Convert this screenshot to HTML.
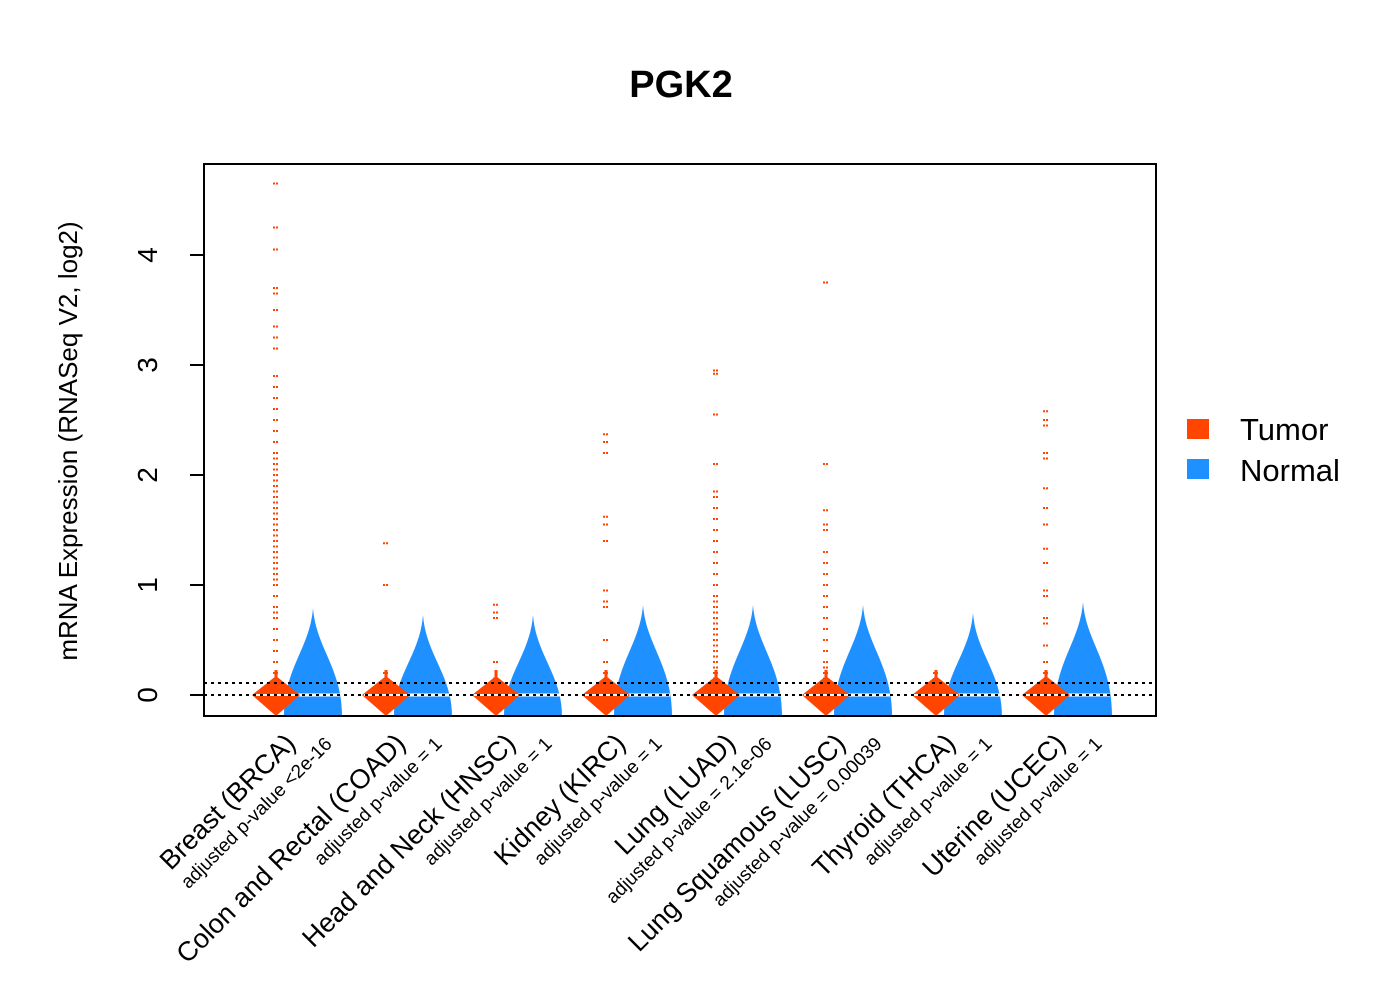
<!DOCTYPE html>
<html><head><meta charset="utf-8"><style>body{margin:0;background:#fff}svg{display:block}text{font-family:"Liberation Sans",Arial,sans-serif}</style></head>
<body>
<svg id="s" width="1400" height="1000" xmlns="http://www.w3.org/2000/svg">
<rect width="1400" height="1000" fill="#fff"/>
<text x="681" y="97" font-size="38" font-weight="bold" text-anchor="middle">PGK2</text>
<g id="plot"></g>
<line x1="204" y1="683" x2="1156" y2="683" stroke="#000" stroke-width="2" stroke-dasharray="3,4"/>
<line x1="204" y1="695" x2="1156" y2="695" stroke="#000" stroke-width="2" stroke-dasharray="3,4"/>
<rect x="204" y="164" width="952" height="552" fill="none" stroke="#000" stroke-width="2"/>
<g stroke="#000" stroke-width="2">
<line x1="204" y1="695" x2="190" y2="695"/><line x1="204" y1="585" x2="190" y2="585"/><line x1="204" y1="475" x2="190" y2="475"/><line x1="204" y1="365" x2="190" y2="365"/><line x1="204" y1="255" x2="190" y2="255"/>
</g>
<g font-size="28" text-anchor="middle">
<text transform="translate(157,695) rotate(-90)">0</text>
<text transform="translate(157,585) rotate(-90)">1</text>
<text transform="translate(157,475) rotate(-90)">2</text>
<text transform="translate(157,365) rotate(-90)">3</text>
<text transform="translate(157,255) rotate(-90)">4</text>
</g>
<text transform="translate(77,441) rotate(-90)" font-size="26" text-anchor="middle">mRNA Expression (RNASeq V2, log2)</text>
<rect x="1187" y="419" width="22" height="20" fill="#FF4500"/>
<rect x="1187" y="459" width="22" height="20" fill="#1E90FF"/>
<text x="1240" y="440" font-size="31">Tumor</text>
<text x="1240" y="481" font-size="31">Normal</text>
<g id="labels"></g>
</svg>
<script>
var NS="http://www.w3.org/2000/svg",plot=document.getElementById('plot'),lab=document.getElementById('labels');
function el(t,a,p,txt){var e=document.createElementNS(NS,t);for(var k in a)e.setAttribute(k,a[k]);if(txt)e.textContent=txt;(p||plot).appendChild(e);return e;}
var names=["Breast (BRCA)","Colon and Rectal (COAD)","Head and Neck (HNSC)","Kidney (KIRC)","Lung (LUAD)","Lung Squamous (LUSC)","Thyroid (THCA)","Uterine (UCEC)"];
var pv=["adjusted p-value <2e-16","adjusted p-value = 1","adjusted p-value = 1","adjusted p-value = 1","adjusted p-value = 2.1e-06","adjusted p-value = 0.00039","adjusted p-value = 1","adjusted p-value = 1"];
var tips=[608,615,615,605,605,605,613,602];
var outl=[
[0.2,0.3,0.4,0.5,0.6,0.7,0.75,0.8,0.9,1.0,1.05,1.1,1.15,1.2,1.25,1.3,1.35,1.4,1.45,1.5,1.55,1.6,1.65,1.7,1.75,1.8,1.85,1.9,1.95,2.0,2.05,2.1,2.15,2.2,2.3,2.4,2.5,2.6,2.7,2.8,2.9,3.15,3.25,3.35,3.5,3.65,3.7,4.05,4.25,4.65],
[0.2,1.0,1.38],[0.15,0.3,0.7,0.75,0.82],
[0.2,0.3,0.5,0.8,0.85,0.95,1.4,1.55,1.62,2.2,2.3,2.37],
[0.15,0.2,0.25,0.3,0.35,0.4,0.45,0.5,0.55,0.6,0.65,0.7,0.75,0.8,0.85,0.9,1.0,1.1,1.2,1.3,1.4,1.5,1.6,1.7,1.8,1.85,2.1,2.55,2.92,2.95],
[0.15,0.2,0.25,0.3,0.4,0.5,0.6,0.7,0.8,0.9,1.0,1.1,1.2,1.3,1.5,1.55,1.68,2.1,3.75],
[0.2],[0.2,0.3,0.45,0.65,0.7,0.9,0.95,1.2,1.33,1.55,1.7,1.88,2.15,2.2,2.45,2.5,2.58]];
for(var i=0;i<8;i++){
 var xt=276+110*i,xn=313+110*i,t=tips[i];
 el('path',{d:'M'+xn+','+t+' C'+(xn+3)+','+(t+40)+' '+(xn+29)+','+(t+60)+' '+(xn+29)+',716 L'+(xn-29)+',716 C'+(xn-29)+','+(t+60)+' '+(xn-3)+','+(t+40)+' '+xn+','+t+'Z',fill:'#1E90FF'});
 el('line',{x1:xn-27,y1:695,x2:xn+27,y2:695,stroke:'#fff','stroke-width':3});
 el('path',{d:'M'+xt+',676 L'+(xt+24)+',695 L'+xt+',716 L'+(xt-24)+',695Z',fill:'#FF4500'});
 el('line',{x1:xt,y1:670,x2:xt,y2:680,stroke:'#FF4500','stroke-width':3});
 el('line',{x1:xt-22,y1:695,x2:xt+22,y2:695,stroke:'#fff','stroke-width':2});
 outl[i].forEach(function(v){var y=695-110*v;el('line',{x1:xt-3,y1:y,x2:xt+3,y2:y,stroke:'#FF4500','stroke-width':2,'stroke-dasharray':'2,1'});});
 el('text',{transform:'translate('+(297+110*i)+',745) rotate(-45)','font-size':27,'text-anchor':'end'},lab,names[i]);
 el('text',{transform:'translate('+(333+110*i)+',745) rotate(-45)','font-size':19,'text-anchor':'end'},lab,pv[i]);
}
</script>
</body></html>
